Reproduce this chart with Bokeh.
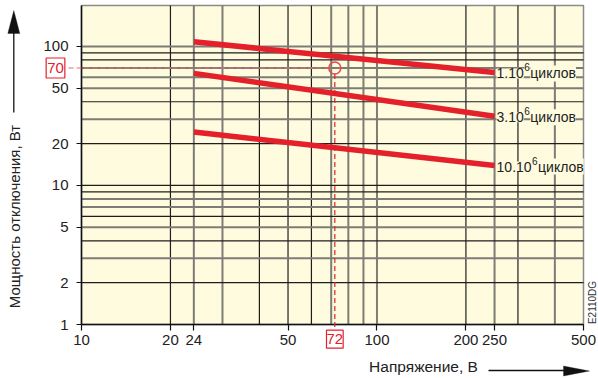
import math
from bokeh.plotting import figure
from bokeh.models import (Range1d, FixedTicker, Label, Arrow, PolyAnnotation,
                          ColumnDataSource, PrintfTickFormatter)
from bokeh.core.properties import value
from bokeh.embed import file_html
from bokeh.resources import INLINE

# ---------------- data ----------------
voltage = [24, 250]
power_1M = [108, 65]
power_3M = [64, 31.5]
power_10M = [24.2, 13.9]
curve_multipliers = ["1.10", "3.10", "10.10"]
curve_exponent = "6"
curve_unit = "циклов"

x_ticks = [10, 20, 24, 50, 100, 200, 250, 500]
y_ticks = [1, 2, 5, 10, 20, 50, 100]
x_grid_dark = [20, 40, 50, 60, 200, 300]
x_grid_gray = [24, 30, 70, 80, 90, 100, 250, 400]
y_grid_dark = [2, 4, 6, 9, 10, 20, 40, 80, 90]
y_grid_gray = [3, 5, 7, 8, 30, 50, 60, 70, 100]
example_voltage = 72
example_power = 70
x_title = "Напряжение, В"
y_title = "Мощность отключения, Вт"
code_text = "E2110DG"

# ---------------- layout ----------------
FONT = "Liberation Sans"
W, H = 598, 378
PX_L, PX_R, PX_T, PX_B = 81, 583, 5, 324      # plot-area box in pixels
X0, X1 = 10, 500
Y0, Y1 = 1, 197
RED = "#E4202B"
BG = "#FFFBDF"
DARK = "#1e1e1e"
GRAY = "#7d7d75"

ppd_x = (PX_R - PX_L) / math.log10(X1 / X0)
ppd_y = (PX_B - PX_T) / math.log10(Y1 / Y0)
x_range = Range1d(X0 * 10 ** (-PX_L / ppd_x), X1 * 10 ** ((W - PX_R) / ppd_x))
y_range = Range1d(Y0 * 10 ** (-(H - PX_B) / ppd_y), Y1 * 10 ** (PX_T / ppd_y))

def sx(px):  # pixel x -> screen units
    return px

def sy(py):  # pixel y (from top) -> screen units (from bottom)
    return H - py

p = figure(width=W, height=H, x_axis_type="log", y_axis_type="log",
           x_range=x_range, y_range=y_range,
           output_backend="svg", toolbar_location=None,
           min_border_left=0, min_border_right=0, min_border_top=0, min_border_bottom=0,
           background_fill_color="white", border_fill_color="white",
           outline_line_color=None)
p.xgrid.visible = False
p.ygrid.visible = False

# plot area
p.quad(left=[X0], right=[X1], bottom=[Y0], top=[Y1], fill_color=BG,
       line_color="#8a8a8a", line_width=1.5, level="image")

# grid lines
for xs, color, width in [(x_grid_dark, DARK, 1.2), (x_grid_gray, GRAY, 2.0)]:
    p.segment(x0=xs, y0=[Y0] * len(xs), x1=xs, y1=[Y1] * len(xs),
              line_color=color, line_width=width, level="underlay")
for ys, color, width in [(y_grid_dark, DARK, 1.2), (y_grid_gray, GRAY, 2.0)]:
    p.segment(x0=[X0] * len(ys), y0=ys, x1=[X1] * len(ys), y1=ys,
              line_color=color, line_width=width, level="underlay")

# axes
p.xaxis.ticker = FixedTicker(ticks=x_ticks)
p.yaxis.ticker = FixedTicker(ticks=y_ticks)
p.xaxis.fixed_location = Y0
p.yaxis.fixed_location = X0
p.xaxis.bounds = (X0, X1)
p.yaxis.bounds = (Y0, Y1)
for ax in (p.xaxis, p.yaxis):
    ax.formatter = PrintfTickFormatter(format="%d")
    ax.minor_tick_line_color = None
    ax.major_tick_in = 0
    ax.axis_line_color = "#111111"
    ax.axis_line_width = 1.5
    ax.major_tick_line_color = "#111111"
    ax.major_tick_line_width = 1.2
    ax.major_label_text_font = FONT
    ax.major_label_text_font_size = "15px"
    ax.major_label_text_color = "#222222"
p.xaxis.major_tick_out = 6
p.yaxis.major_tick_out = 5
p.xaxis.major_label_standoff = 4
p.yaxis.major_label_standoff = 8

# ---------------- curves ----------------
series = [power_1M, power_3M, power_10M]
for s in series:
    p.line(voltage, s, line_color=RED, line_width=5.5)

end_x = [voltage[-1]] * 3
end_y = [s[-1] for s in series]
mult_w = [sum(0.278 if c == "." else 0.556 for c in m) * 14 for m in curve_multipliers]
src = ColumnDataSource(dict(x=end_x, y=end_y, m=curve_multipliers, e=[curve_exponent] * 3,
                            u=[curve_unit] * 3,
                            eo=[2 + w + 0.5 for w in mult_w],
                            uo=[2 + w + 0.5 + 6 for w in mult_w]))
common = dict(text_font=value(FONT), text_color="#222222", text_baseline="middle",
              background_fill_color=BG, source=src)
p.text(x="x", y="y", text="m", x_offset=2, y_offset=1, text_font_size="14px", **common)
p.text(x="x", y="y", text="u", x_offset="uo", y_offset=1, text_font_size="14px", **common)
p.text(x="x", y="y", text="e", x_offset="eo", y_offset=-5, text_font_size="10px", **common)

# ---------------- example reading ----------------
p.scatter([example_voltage], [example_power], marker="circle", size=12,
          fill_color=None, line_color="#E8474C", line_width=1.5)
r = 6
x_circle_left = example_voltage * 10 ** (-r / ppd_x)
y_circle_bottom = example_power * 10 ** (-r / ppd_y)
x_box_right = X0 * 10 ** (-(PX_L - 68) / ppd_x)
y_box_top = Y0 * 10 ** (-(331 - PX_B) / ppd_y)
p.add_layout(Arrow(start=None, end=None, x_start=x_box_right, y_start=example_power,
                   x_end=x_circle_left, y_end=example_power,
                   line_color="#EF6A6E", line_width=1.2, line_dash="5 3"))
p.add_layout(Arrow(start=None, end=None, x_start=example_voltage, y_start=y_circle_bottom,
                   x_end=example_voltage, y_end=y_box_top,
                   line_color="#D9232D", line_width=1.2, line_dash="5 3"))
p.add_layout(Label(x=sx(55), x_units="screen", y=example_power, y_units="data",
                   text=str(example_power), text_font=FONT, text_font_size="15px",
                   text_color=RED, text_align="center", text_baseline="middle",
                   border_line_color=RED, border_line_width=1.2, background_fill_color="white",
                   padding=(1, 5)))
p.add_layout(Label(x=example_voltage, x_units="data", y=sy(338.7), y_units="screen",
                   text=str(example_voltage), text_font=FONT, text_font_size="15px",
                   text_color=RED, text_align="center", text_baseline="middle",
                   border_line_color=RED, border_line_width=1.2, background_fill_color="white",
                   padding=(0, 4)))

# ---------------- axis titles ----------------
p.add_layout(Label(x=sx(14), y=sy(216), x_units="screen", y_units="screen", angle=math.pi / 2,
                   text=y_title, text_font=FONT, text_font_size="15px", text_color="#222222",
                   text_align="center", text_baseline="middle"))
p.add_layout(Arrow(start=None, end=None, x_start=sx(13.3), y_start=sy(112), x_end=sx(13.3), y_end=sy(32),
                   start_units="screen", end_units="screen", line_color="#111111", line_width=1.3))
p.add_layout(PolyAnnotation(xs=[sx(7.3), sx(13.3), sx(19.3)], ys=[sy(33), sy(10), sy(33)],
                            xs_units="screen", ys_units="screen", fill_color="#111111", fill_alpha=1,
                            line_color="#111111"))
p.add_layout(Label(x=sx(423), y=sy(366), x_units="screen", y_units="screen",
                   text=x_title, text_font=FONT, text_font_size="15.5px", text_color="#222222",
                   text_align="center", text_baseline="middle"))
p.add_layout(Arrow(start=None, end=None, x_start=sx(488), y_start=sy(370), x_end=sx(566), y_end=sy(370),
                   start_units="screen", end_units="screen", line_color="#111111", line_width=1.3))
p.add_layout(PolyAnnotation(xs=[sx(563), sx(589), sx(563)], ys=[sy(365.5), sy(370.5), sy(375.5)],
                            xs_units="screen", ys_units="screen", fill_color="#111111", fill_alpha=1,
                            line_color="#111111"))
p.add_layout(Label(x=sx(592), y=sy(302), x_units="screen", y_units="screen", angle=math.pi / 2,
                   text=code_text, text_font=FONT, text_font_size="10px", text_color="#333333",
                   text_align="center", text_baseline="middle"))

open("out.html", "w").write(file_html(p, INLINE))
